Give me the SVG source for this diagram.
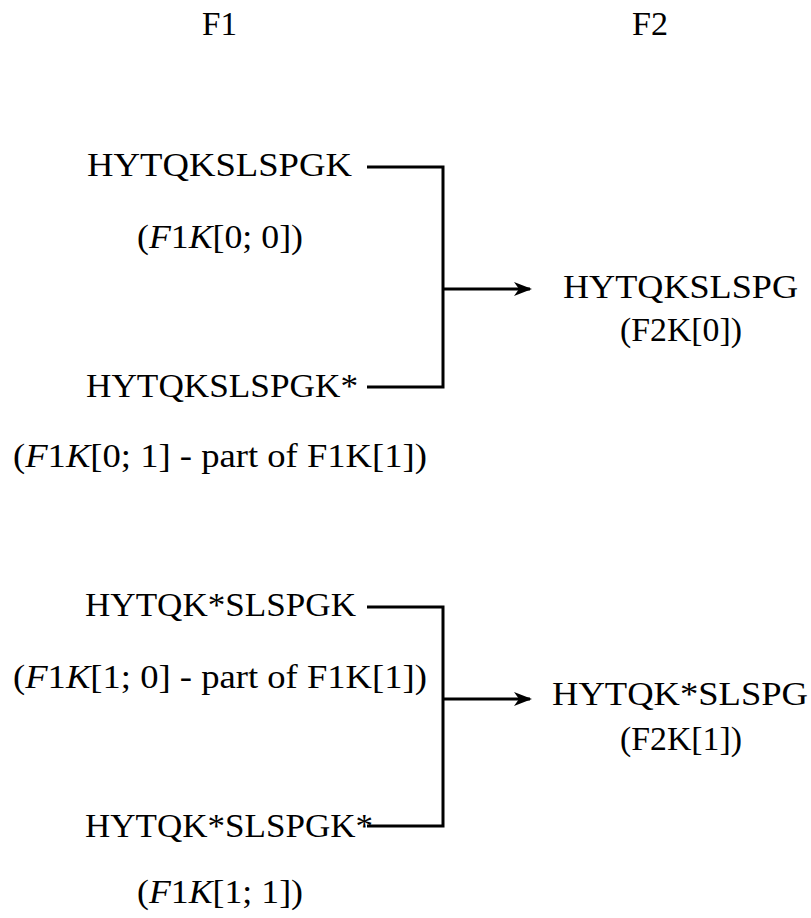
<svg xmlns="http://www.w3.org/2000/svg" width="811" height="918" viewBox="0 0 811 918">
<style>
text{font-family:"Liberation Serif","DejaVu Serif",serif;font-size:33px;fill:#000}
.i{font-style:italic}
.c{fill:none;stroke:#000;stroke-width:3;stroke-linejoin:miter;stroke-linecap:butt}
</style>
<defs>
<marker id="ah" markerUnits="userSpaceOnUse" markerWidth="20" markerHeight="16" viewBox="0 0 20 16" refX="17" refY="8" orient="auto">
<path d="M1,1 L19,8 L1,15 L6,8 Z" fill="#000"/>
</marker>
</defs>
<rect width="811" height="918" fill="#fff"/>
<g id="headers">
<text x="202" y="35" textLength="35" lengthAdjust="spacingAndGlyphs">F1</text>
<text x="632" y="35" textLength="36" lengthAdjust="spacingAndGlyphs">F2</text>
</g>
<g id="n00">
<text x="87" y="176" textLength="265" lengthAdjust="spacingAndGlyphs">HYTQKSLSPGK</text>
<text x="137" y="248" textLength="166" lengthAdjust="spacingAndGlyphs">(<tspan class="i">F</tspan>1<tspan class="i">K</tspan>[0; 0])</text>
</g>
<g id="n01">
<text x="86" y="397" textLength="272" lengthAdjust="spacingAndGlyphs">HYTQKSLSPGK*</text>
<text x="13" y="467" textLength="414" lengthAdjust="spacingAndGlyphs">(<tspan class="i">F</tspan>1<tspan class="i">K</tspan>[0; 1] - part of F1K[1])</text>
</g>
<g id="f20">
<text x="563" y="298" textLength="235" lengthAdjust="spacingAndGlyphs">HYTQKSLSPG</text>
<text x="620" y="341" textLength="122" lengthAdjust="spacingAndGlyphs">(F2K[0])</text>
</g>
<g id="n10">
<text x="85" y="616" textLength="271" lengthAdjust="spacingAndGlyphs">HYTQK*SLSPGK</text>
<text x="13" y="688" textLength="414" lengthAdjust="spacingAndGlyphs">(<tspan class="i">F</tspan>1<tspan class="i">K</tspan>[1; 0] - part of F1K[1])</text>
</g>
<g id="n11">
<text x="85" y="837" textLength="288" lengthAdjust="spacingAndGlyphs">HYTQK*SLSPGK*</text>
<text x="137" y="903" textLength="166" lengthAdjust="spacingAndGlyphs">(<tspan class="i">F</tspan>1<tspan class="i">K</tspan>[1; 1])</text>
</g>
<g id="f21">
<text x="552" y="705" textLength="256" lengthAdjust="spacingAndGlyphs">HYTQK*SLSPG</text>
<text x="620" y="750" textLength="122" lengthAdjust="spacingAndGlyphs">(F2K[1])</text>
</g>
<g id="connectors">
<path class="c" d="M367,167 H443 V387 H367"/>
<path class="c" d="M443,289 H530" marker-end="url(#ah)"/>
<path class="c" d="M367,607 H443 V826 H367"/>
<path class="c" d="M443,699 H530" marker-end="url(#ah)"/>
</g>
</svg>
